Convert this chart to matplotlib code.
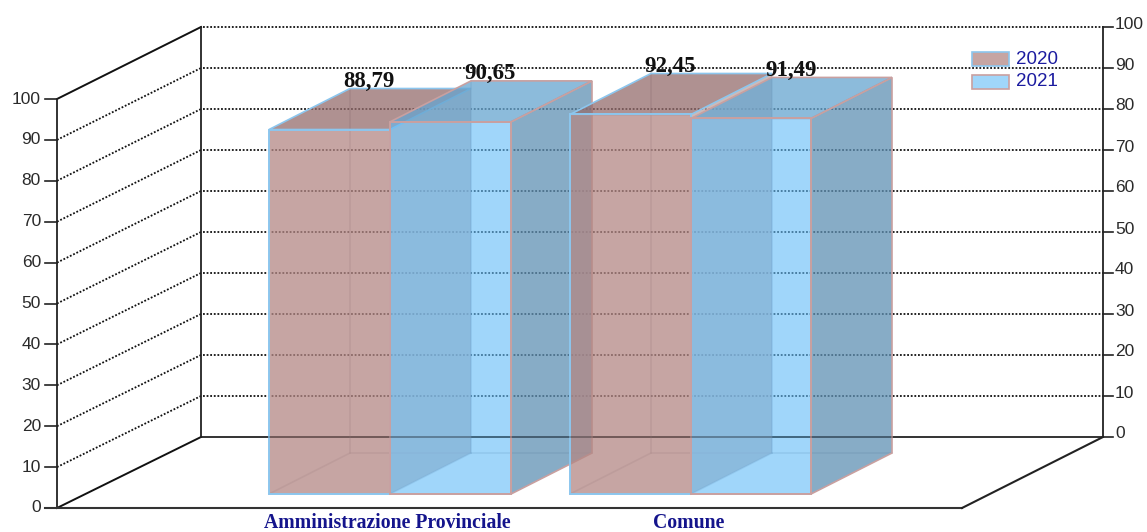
import matplotlib
matplotlib.use('Agg')
import matplotlib.pyplot as plt
from matplotlib.patches import Polygon, Rectangle

categories = ['Amministrazione Provinciale', 'Comune']
years = ['2020', '2021']
values_2020 = [88.79, 92.45]
values_2021 = [90.65, 91.49]
labels_2020 = ['88,79', '92,45']
labels_2021 = ['90,65', '91,49']
ticks = [0, 10, 20, 30, 40, 50, 60, 70, 80, 90, 100]

# everything is laid out in image pixels, the 3d look is only an offset
front_y0 = 508
back_y0 = 437
unit = 4.09
bar_y0 = 494
bar_unit = 4.105
dx, dy = 81, -41

fig = plt.figure(figsize=(11.47, 5.32), dpi=100)
ax = fig.add_axes([0, 0, 1, 1])
ax.set_xlim(0, 1147)
ax.set_ylim(532, 0)
ax.axis('off')

# walls
for t in ticks:
    yf = front_y0 - t * unit
    yb = back_y0 - t * 4.1
    style = '-' if t in (0, 100) else (0, (1, 1))
    lw = 1.4 if t in (0, 100) else 1.3
    ax.plot([57, 201], [yf, yb], color='#111111', lw=lw, ls=style, zorder=1)
    if t == 0:
        ax.plot([201, 1103], [yb, yb], color='#111111', lw=1.2, zorder=1)
    else:
        ax.plot([203, 1103], [yb, yb], color='#111111', lw=1.3, ls=(0, (1, 1)), zorder=1)
    ax.plot([45, 57], [yf, yf], color='#222222', lw=1.2, zorder=1)
    ax.plot([1103, 1113], [yb, yb], color='#222222', lw=1.2, zorder=1)
    ax.text(41, yf, str(t), ha='right', va='center', fontsize=12.5,
            family='Liberation Sans', color='#2a2a2a', zorder=6)
    ax.text(1115, yb - 3, str(t), ha='left', va='center', fontsize=12.5,
            family='Liberation Sans', color='#2a2a2a', zorder=6)

ax.plot([57, 57], [100, front_y0], color='#222222', lw=1.3, zorder=1)
ax.plot([201, 201], [27, back_y0], color='#222222', lw=1.3, zorder=1)
ax.plot([1103, 1103], [27, back_y0], color='#222222', lw=1.3, zorder=1)
ax.plot([45, 962], [front_y0, front_y0], color='#333333', lw=1.5, zorder=1)
ax.plot([962, 1103], [front_y0, back_y0], color='#222222', lw=1.5, zorder=1)

brown = dict(front=(179/255, 135/255, 132/255, 0.75), top=(148/255, 108/255, 108/255, 0.75),
             side=(188/255, 164/255, 162/255, 0.75), edge='#8cc6ee', side_edge='none')
blue = dict(front=(97/255, 187/255, 247/255, 0.6), top=(102/255, 165/255, 208/255, 0.75),
            side=(95/255, 144/255, 179/255, 0.75), edge='#c9a0a0', side_edge='#c9a0a0')


def draw_bar(x0, x1, value, colors, z):
    top = bar_y0 - value * bar_unit
    # hidden edges at the back
    ax.plot([x0, x0 + dx, x1 + dx], [bar_y0, bar_y0 + dy, bar_y0 + dy],
            color='#8a8a9a', lw=1.2, alpha=0.3, zorder=z)
    ax.plot([x0 + dx, x0 + dx], [bar_y0 + dy, top + dy],
            color='#8a8a9a', lw=1.2, alpha=0.35, zorder=z)
    ax.add_patch(Polygon([(x1, bar_y0), (x1 + dx, bar_y0 + dy), (x1 + dx, top + dy), (x1, top)],
                         fc=colors['side'], ec=colors['side_edge'], lw=1.2, zorder=z))
    ax.add_patch(Polygon([(x0, top), (x1, top), (x1 + dx, top + dy), (x0 + dx, top + dy)],
                         fc=colors['top'], ec=colors['edge'], lw=1.2, zorder=z))
    ax.add_patch(Rectangle((x0, top), x1 - x0, bar_y0 - top,
                           fc=colors['front'], ec=colors['edge'], lw=1.4, zorder=z))


edges = [(269, 390, 390, 511), (570, 691, 691, 811)]
z = 2
for i in range(len(categories)):
    a0, a1, b0, b1 = edges[i]
    draw_bar(a0, a1, values_2020[i], brown, z)
    draw_bar(b0, b1, values_2021[i], blue, z + 1)
    z += 2
    ax.text(a0 + 100, bar_y0 - values_2020[i] * bar_unit + dy - 7, labels_2020[i], ha='center', va='center',
            fontsize=16.5, fontweight='bold', family='Liberation Serif', color='#111111', zorder=8)
    ax.text(b0 + 100, bar_y0 - values_2021[i] * bar_unit + dy - 7, labels_2021[i], ha='center', va='center',
            fontsize=16.5, fontweight='bold', family='Liberation Serif', color='#111111', zorder=8)

# floor line shows through the bars
ax.plot([269, 892], [back_y0, back_y0], color='#222222', lw=1.2, alpha=0.35, zorder=7)

cat_x = [387, 689]
for i in range(len(categories)):
    ax.text(cat_x[i], 523, categories[i], ha='center', va='center', fontsize=14.2,
            fontweight='bold', family='Liberation Serif', color='#14148c')

# legend
ax.add_patch(Rectangle((972, 52), 37, 14, fc='#c6a5a3', ec='#8cc6ee', lw=1.2, zorder=6))
ax.add_patch(Rectangle((972, 75), 37, 14, fc='#a0d6fa', ec='#c9a0a0', lw=1.2, zorder=6))
ax.text(1016, 59, years[0], ha='left', va='center', fontsize=13.5, family='Liberation Sans',
        color='#1c1ca0', zorder=6)
ax.text(1016, 82, years[1], ha='left', va='center', fontsize=13.5, family='Liberation Sans',
        color='#1c1ca0', zorder=6)

fig.savefig('out.png', dpi=100)
